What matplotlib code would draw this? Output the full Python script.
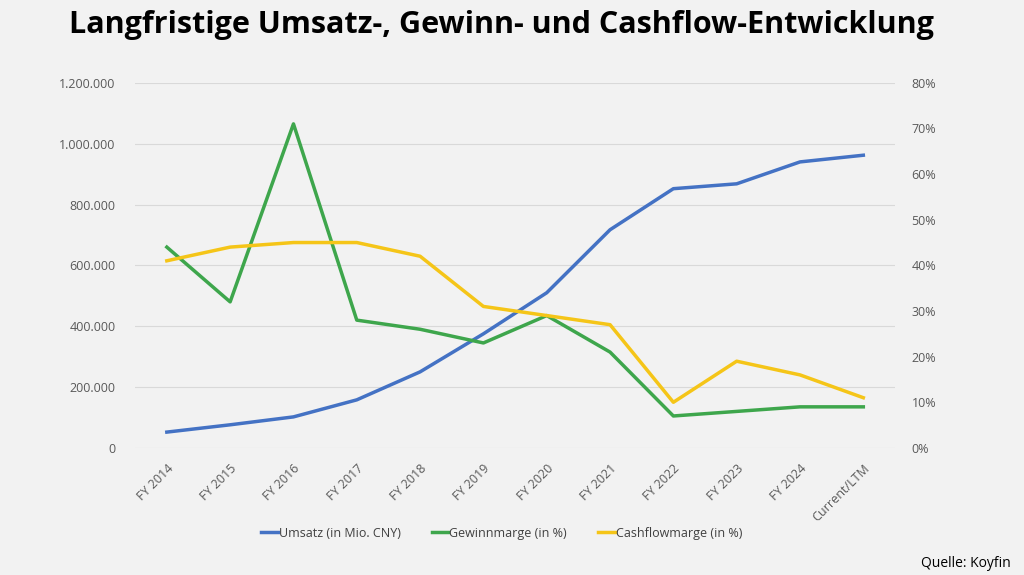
import numpy as np
import matplotlib.pyplot as plt
from matplotlib.ticker import FuncFormatter

# data
years = ['FY 2014', 'FY 2015', 'FY 2016', 'FY 2017', 'FY 2018', 'FY 2019',
         'FY 2020', 'FY 2021', 'FY 2022', 'FY 2023', 'FY 2024', 'Current/LTM']
umsatz = [52000, 76000, 102000, 158000, 250000, 375000,
          510000, 717000, 852000, 868000, 940000, 962000]
gewinnmarge = [44, 32, 71, 28, 26, 23, 29, 21, 7, 8, 9, 9]
cashflowmarge = [41, 44, 45, 45, 42, 31, 29, 27, 10, 19, 16, 11]

bg = '#f2f2f2'
plt.rcParams['font.family'] = ['Open Sans', 'DejaVu Sans']

fig = plt.figure(figsize=(10.24, 5.75), dpi=100, facecolor=bg)
ax = fig.add_axes([0.132, 0.221, 0.742, 0.635], facecolor=bg)
ax2 = ax.twinx()

x = np.arange(len(years))
l1, = ax.plot(x, umsatz, color='#4472c4', lw=2.5, label='Umsatz (in Mio. CNY)')
l2, = ax2.plot(x, gewinnmarge, color='#3ea64c', lw=2.5, label='Gewinnmarge (in %)')
l3, = ax2.plot(x, cashflowmarge, color='#f5c518', lw=2.5, label='Cashflowmarge (in %)')

ax.set_xlim(-0.5, len(years) - 0.5)
ax.set_ylim(0, 1200000)
ax.set_yticks(np.arange(0, 1200001, 200000))
ax.yaxis.set_major_formatter(FuncFormatter(lambda v, p: f'{int(v):,}'.replace(',', '.')))
ax2.set_ylim(0, 80)
ax2.set_yticks(np.arange(0, 81, 10))
ax2.yaxis.set_major_formatter(FuncFormatter(lambda v, p: f'{int(v)}%'))

ax.grid(axis='y', color='#d9d9d9', lw=0.8)
ax.set_axisbelow(True)
for a in (ax, ax2):
    for s in a.spines.values():
        s.set_visible(False)
    a.tick_params(length=0, labelsize=9, colors='#595959')
ax.tick_params(axis='y', pad=14)
ax2.tick_params(axis='y', pad=12)

ax.set_xticks(x)
ax.set_xticklabels(years, rotation=45, ha='right', rotation_mode='anchor')
ax.tick_params(axis='x', pad=10)

fig.legend(handles=[l1, l2, l3], loc='center', bbox_to_anchor=(0.49, 0.073), ncol=3,
           frameon=False, fontsize=9, handlelength=1.3, handletextpad=0.1,
           columnspacing=2.5, labelcolor='#404040')

fig.text(0.49, 0.956, 'Langfristige Umsatz-, Gewinn- und Cashflow-Entwicklung',
         ha='center', va='center', fontsize=22, fontweight='bold', color='black')
fig.text(0.987, 0.02, 'Quelle: Koyfin', ha='right', va='center', fontsize=10, color='black')

fig.savefig('out.png', dpi=100, facecolor=bg)
